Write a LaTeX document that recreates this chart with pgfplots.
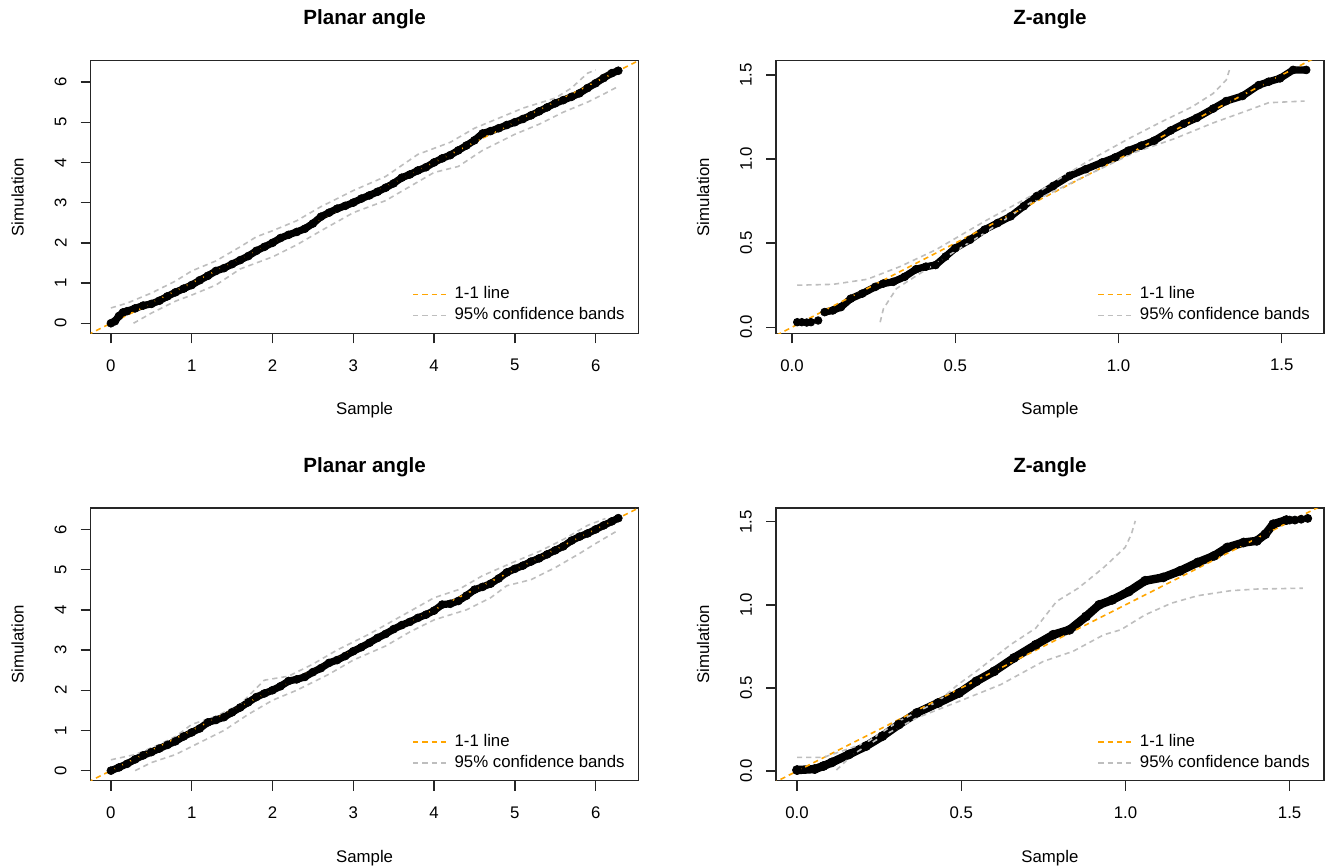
\documentclass[border=0pt]{standalone}
\usepackage{pgfplots}
\pgfplotsset{compat=1.18}
\usepackage{fontspec}
\setmainfont{Liberation Sans}
\definecolor{rorange}{HTML}{FFA500}
\definecolor{rgray}{HTML}{BEBEBE}
\pgfplotsset{oneline/.style={rorange, line width=0.8pt, dash pattern=on 2.6pt off 2pt},
  band/.style={rgray, line width=0.8pt, dash pattern=on 2.6pt off 2pt}}
\pgfplotsset{qq/.style={
  scale only axis, width=273.9pt, height=136.3pt,
  axis line style={line width=0.7pt, black!85},
  every tick/.style={line width=0.7pt, black!85},
  tick align=outside, major tick length=5pt,
  xtick pos=lower, ytick pos=left,
  ticklabel style={font=\fontsize{8.4}{10}\selectfont},
  xticklabel style={anchor=center, yshift=-11pt},
  yticklabel style={xshift=-10pt, rotate=90, anchor=center},
  /pgf/number format/assume math mode=true,
  label style={font=\fontsize{8.4}{10}\selectfont},
  xlabel style={at={([yshift=-38.5pt]axis description cs:0.5,0)}, anchor=center},
  ylabel style={at={([xshift=-36.5pt]axis description cs:0,0.5)}, anchor=center},
  every axis title shift=0pt,
  title style={font=\fontsize{10.3}{12}\selectfont\bfseries, at={([yshift=20.5pt]axis description cs:0.5,1)}, anchor=center},
  xlabel=Sample, ylabel=Simulation,
  legend style={draw=none, fill=none, at={([xshift=-3.5pt,yshift=5pt]axis description cs:1,0)}, anchor=south east,
    font=\fontsize{8.4}{10}\selectfont, inner sep=0pt, row sep=3pt,
    nodes={inner xsep=3.25pt, inner ysep=0pt, text height=6pt, text depth=1.5pt}},
  legend cell align=left,
  legend entries={1-1 line, 95\% confidence bands},
}}
\pgfplotsset{pts/.style={black, line width=3.6pt, line join=round, mark=*, mark size=2pt, mark options={line width=0.3pt}, forget plot}}
\newcommand{\qqlegend}{\addlegendimage{oneline}\addlegendimage{band}}
\begin{document}
\begin{tikzpicture}
\useasboundingbox (0,0) rectangle (663pt,433.5pt);
% ---------------- top left
\begin{axis}[qq, at={(45.35pt,266.85pt)}, anchor=south west,
  title={Planar angle}, xmin=-0.25, xmax=6.53, ymin=-0.25, ymax=6.53,
  xtick={0,1,...,6}, ytick={0,1,...,6}]
\qqlegend
\addplot[pts] coordinates {(0.0,0.0) (0.05,0.05) (0.1,0.18) (0.15,0.27) (0.2,0.3) (0.3,0.37) (0.4,0.44) (0.5,0.48) (0.6,0.56) (0.7,0.67) (0.8,0.77) (0.9,0.86) (1.0,0.95) (1.1,1.07) (1.2,1.18) (1.3,1.3) (1.4,1.37) (1.5,1.47) (1.6,1.57) (1.7,1.67) (1.8,1.8) (1.9,1.9) (2.0,2.0) (2.1,2.12) (2.2,2.2) (2.3,2.27) (2.4,2.35) (2.5,2.48) (2.6,2.65) (2.7,2.75) (2.8,2.85) (2.9,2.92) (3.0,3.0) (3.1,3.1) (3.2,3.18) (3.3,3.27) (3.4,3.37) (3.5,3.48) (3.6,3.62) (3.7,3.7) (3.8,3.8) (3.9,3.88) (4.0,4.0) (4.1,4.1) (4.2,4.18) (4.3,4.3) (4.4,4.42) (4.5,4.55) (4.6,4.72) (4.7,4.78) (4.8,4.85) (4.9,4.93) (5.0,5.0) (5.1,5.08) (5.2,5.17) (5.3,5.27) (5.4,5.37) (5.5,5.47) (5.6,5.55) (5.7,5.63) (5.8,5.72) (5.9,5.85) (6.0,5.97) (6.1,6.1) (6.2,6.22) (6.28,6.28)};
\addplot[oneline, forget plot] coordinates {(-1,-1) (8,8)};
\addplot[band, forget plot] coordinates {(0,0.38) (0.2,0.5) (0.5,0.75) (0.8,1.05) (1.0,1.3) (1.3,1.55) (1.6,1.9) (1.8,2.15) (2.0,2.3) (2.3,2.55) (2.6,2.9) (3.0,3.3) (3.4,3.65) (3.8,4.2) (4.2,4.5) (4.5,4.85) (4.8,5.1) (5.1,5.35) (5.5,5.6) (5.7,5.85) (5.9,6.22) (6.0,6.3)};
\addplot[band, forget plot] coordinates {(0.28,0.0) (0.5,0.25) (0.8,0.55) (1.0,0.7) (1.3,0.95) (1.6,1.35) (2.0,1.65) (2.3,1.95) (2.6,2.3) (3.0,2.75) (3.4,3.05) (3.7,3.4) (4.0,3.75) (4.3,3.9) (4.6,4.3) (5.0,4.7) (5.3,4.95) (5.6,5.25) (5.9,5.5) (6.1,5.7) (6.27,5.88)};
\end{axis}
% ---------------- top right
\begin{axis}[qq, at={(388pt,266.85pt)}, anchor=south west,
  title={Z-angle}, xmin=-0.049, xmax=1.629, ymin=-0.036, ymax=1.585,
  xtick={0,0.5,1,1.5}, ytick={0,0.5,1,1.5},
  /pgf/number format/.cd, fixed, fixed zerofill, precision=1]
\qqlegend
\addplot[black, only marks, mark=*, mark size=1.9pt, forget plot] coordinates {(0.016,0.03) (0.03,0.03) (0.045,0.028) (0.058,0.03) (0.08,0.04)};
\addplot[pts] coordinates {(0.1,0.09) (0.125,0.1) (0.15,0.12) (0.18,0.17) (0.215,0.2) (0.255,0.24) (0.28,0.26) (0.31,0.27) (0.345,0.3) (0.38,0.345) (0.41,0.36) (0.44,0.37) (0.47,0.42) (0.5,0.47) (0.545,0.52) (0.59,0.58) (0.63,0.62) (0.67,0.66) (0.71,0.72) (0.75,0.78) (0.8,0.84) (0.85,0.9) (0.9,0.94) (0.95,0.98) (0.99,1.01) (1.03,1.05) (1.07,1.08) (1.11,1.11) (1.16,1.17) (1.2,1.21) (1.24,1.245) (1.29,1.3) (1.33,1.345) (1.38,1.375) (1.43,1.44) (1.46,1.46) (1.495,1.48) (1.535,1.53) (1.575,1.53)};
\addplot[oneline, forget plot] coordinates {(-1,-1) (3,3)};
\addplot[band, forget plot] coordinates {(0.016,0.25) (0.125,0.255) (0.23,0.285) (0.33,0.36) (0.44,0.46) (0.59,0.63) (0.75,0.8) (0.9,0.98) (1.03,1.12) (1.13,1.22) (1.225,1.31) (1.29,1.39) (1.33,1.47) (1.34,1.53)};
\addplot[band, forget plot] coordinates {(0.27,0.03) (0.28,0.11) (0.32,0.23) (0.38,0.305) (0.49,0.44) (0.59,0.56) (0.73,0.74) (0.9,0.9) (1.05,1.04) (1.17,1.12) (1.29,1.215) (1.39,1.285) (1.46,1.335) (1.57,1.345)};
\end{axis}
% ---------------- bottom left
\begin{axis}[qq, at={(45.35pt,43.15pt)}, anchor=south west,
  title={Planar angle}, xmin=-0.25, xmax=6.53, ymin=-0.25, ymax=6.53,
  xtick={0,1,...,6}, ytick={0,1,...,6}]
\qqlegend
\addplot[pts] coordinates {(0.0,0.0) (0.1,0.08) (0.2,0.17) (0.3,0.28) (0.4,0.38) (0.5,0.46) (0.6,0.55) (0.7,0.64) (0.8,0.73) (0.9,0.85) (1.0,0.95) (1.1,1.05) (1.2,1.2) (1.3,1.26) (1.4,1.33) (1.5,1.45) (1.6,1.57) (1.7,1.7) (1.8,1.83) (1.9,1.92) (2.0,2.0) (2.1,2.1) (2.2,2.23) (2.3,2.27) (2.4,2.33) (2.5,2.45) (2.6,2.55) (2.7,2.68) (2.8,2.75) (2.9,2.85) (3.0,2.97) (3.1,3.07) (3.2,3.18) (3.3,3.3) (3.4,3.4) (3.5,3.52) (3.6,3.62) (3.7,3.7) (3.8,3.8) (3.9,3.88) (4.0,3.98) (4.1,4.13) (4.2,4.15) (4.3,4.22) (4.4,4.35) (4.5,4.5) (4.6,4.57) (4.7,4.65) (4.8,4.78) (4.9,4.93) (5.0,5.02) (5.1,5.1) (5.2,5.2) (5.3,5.28) (5.4,5.38) (5.5,5.48) (5.6,5.58) (5.7,5.72) (5.8,5.82) (5.9,5.9) (6.0,6.0) (6.1,6.1) (6.2,6.2) (6.28,6.28)};
\addplot[oneline, forget plot] coordinates {(-1,-1) (8,8)};
\addplot[band, forget plot] coordinates {(0.0,0.27) (0.3,0.4) (0.6,0.65) (0.8,0.85) (1.0,1.15) (1.3,1.35) (1.6,1.65) (1.9,2.25) (2.2,2.35) (2.5,2.65) (2.8,3.0) (3.2,3.4) (3.6,3.85) (4.0,4.3) (4.3,4.5) (4.6,4.85) (5.0,5.2) (5.3,5.45) (5.6,5.75) (5.9,6.1) (6.12,6.27)};
\addplot[band, forget plot] coordinates {(0.3,0.0) (0.5,0.2) (0.8,0.4) (1.1,0.7) (1.4,1.0) (1.7,1.4) (2.0,1.75) (2.3,2.0) (2.7,2.4) (3.0,2.75) (3.4,3.1) (3.7,3.45) (4.0,3.75) (4.4,4.0) (4.7,4.3) (4.9,4.6) (5.2,4.75) (5.5,5.05) (5.8,5.4) (6.0,5.65) (6.28,5.98)};
\end{axis}
% ---------------- bottom right
\begin{axis}[qq, at={(388pt,43.15pt)}, anchor=south west,
  title={Z-angle}, xmin=-0.064, xmax=1.604, ymin=-0.058, ymax=1.582,
  xtick={0,0.5,1,1.5}, ytick={0,0.5,1,1.5},
  /pgf/number format/.cd, fixed, fixed zerofill, precision=1]
\qqlegend
\addplot[pts, line width=4.2pt, mark size=2.3pt] coordinates {(0,0.006) (0.054,0.012) (0.08,0.03) (0.106,0.052) (0.158,0.1) (0.21,0.15) (0.26,0.21) (0.31,0.28) (0.365,0.35) (0.43,0.41) (0.494,0.47) (0.546,0.54) (0.6,0.6) (0.66,0.68) (0.727,0.76) (0.78,0.82) (0.83,0.85) (0.88,0.93) (0.92,1.0) (0.96,1.03) (1.01,1.08) (1.06,1.145) (1.115,1.165) (1.167,1.205) (1.22,1.255) (1.27,1.295) (1.31,1.345) (1.36,1.375) (1.4,1.385) (1.426,1.425) (1.45,1.485) (1.49,1.51)};
\addplot[black, only marks, mark=*, mark size=2pt, forget plot] coordinates {(1.5,1.51) (1.516,1.51) (1.535,1.515) (1.555,1.52)};
\addplot[oneline, forget plot] coordinates {(-1,-1) (3,3)};
\addplot[band, forget plot] coordinates {(0,0.082) (0.08,0.082) (0.21,0.17) (0.31,0.3) (0.43,0.42) (0.49,0.52) (0.546,0.6) (0.65,0.76) (0.727,0.86) (0.79,1.02) (0.856,1.1) (0.934,1.225) (0.999,1.345) (1.018,1.425) (1.03,1.505)};
\addplot[band, forget plot] coordinates {(0.12,0.006) (0.17,0.1) (0.26,0.21) (0.365,0.32) (0.494,0.42) (0.62,0.52) (0.75,0.66) (0.84,0.72) (0.934,0.82) (0.986,0.85) (1.06,0.94) (1.14,1.01) (1.22,1.055) (1.32,1.085) (1.4,1.095) (1.54,1.1)};
\end{axis}
\end{tikzpicture}
\end{document}
